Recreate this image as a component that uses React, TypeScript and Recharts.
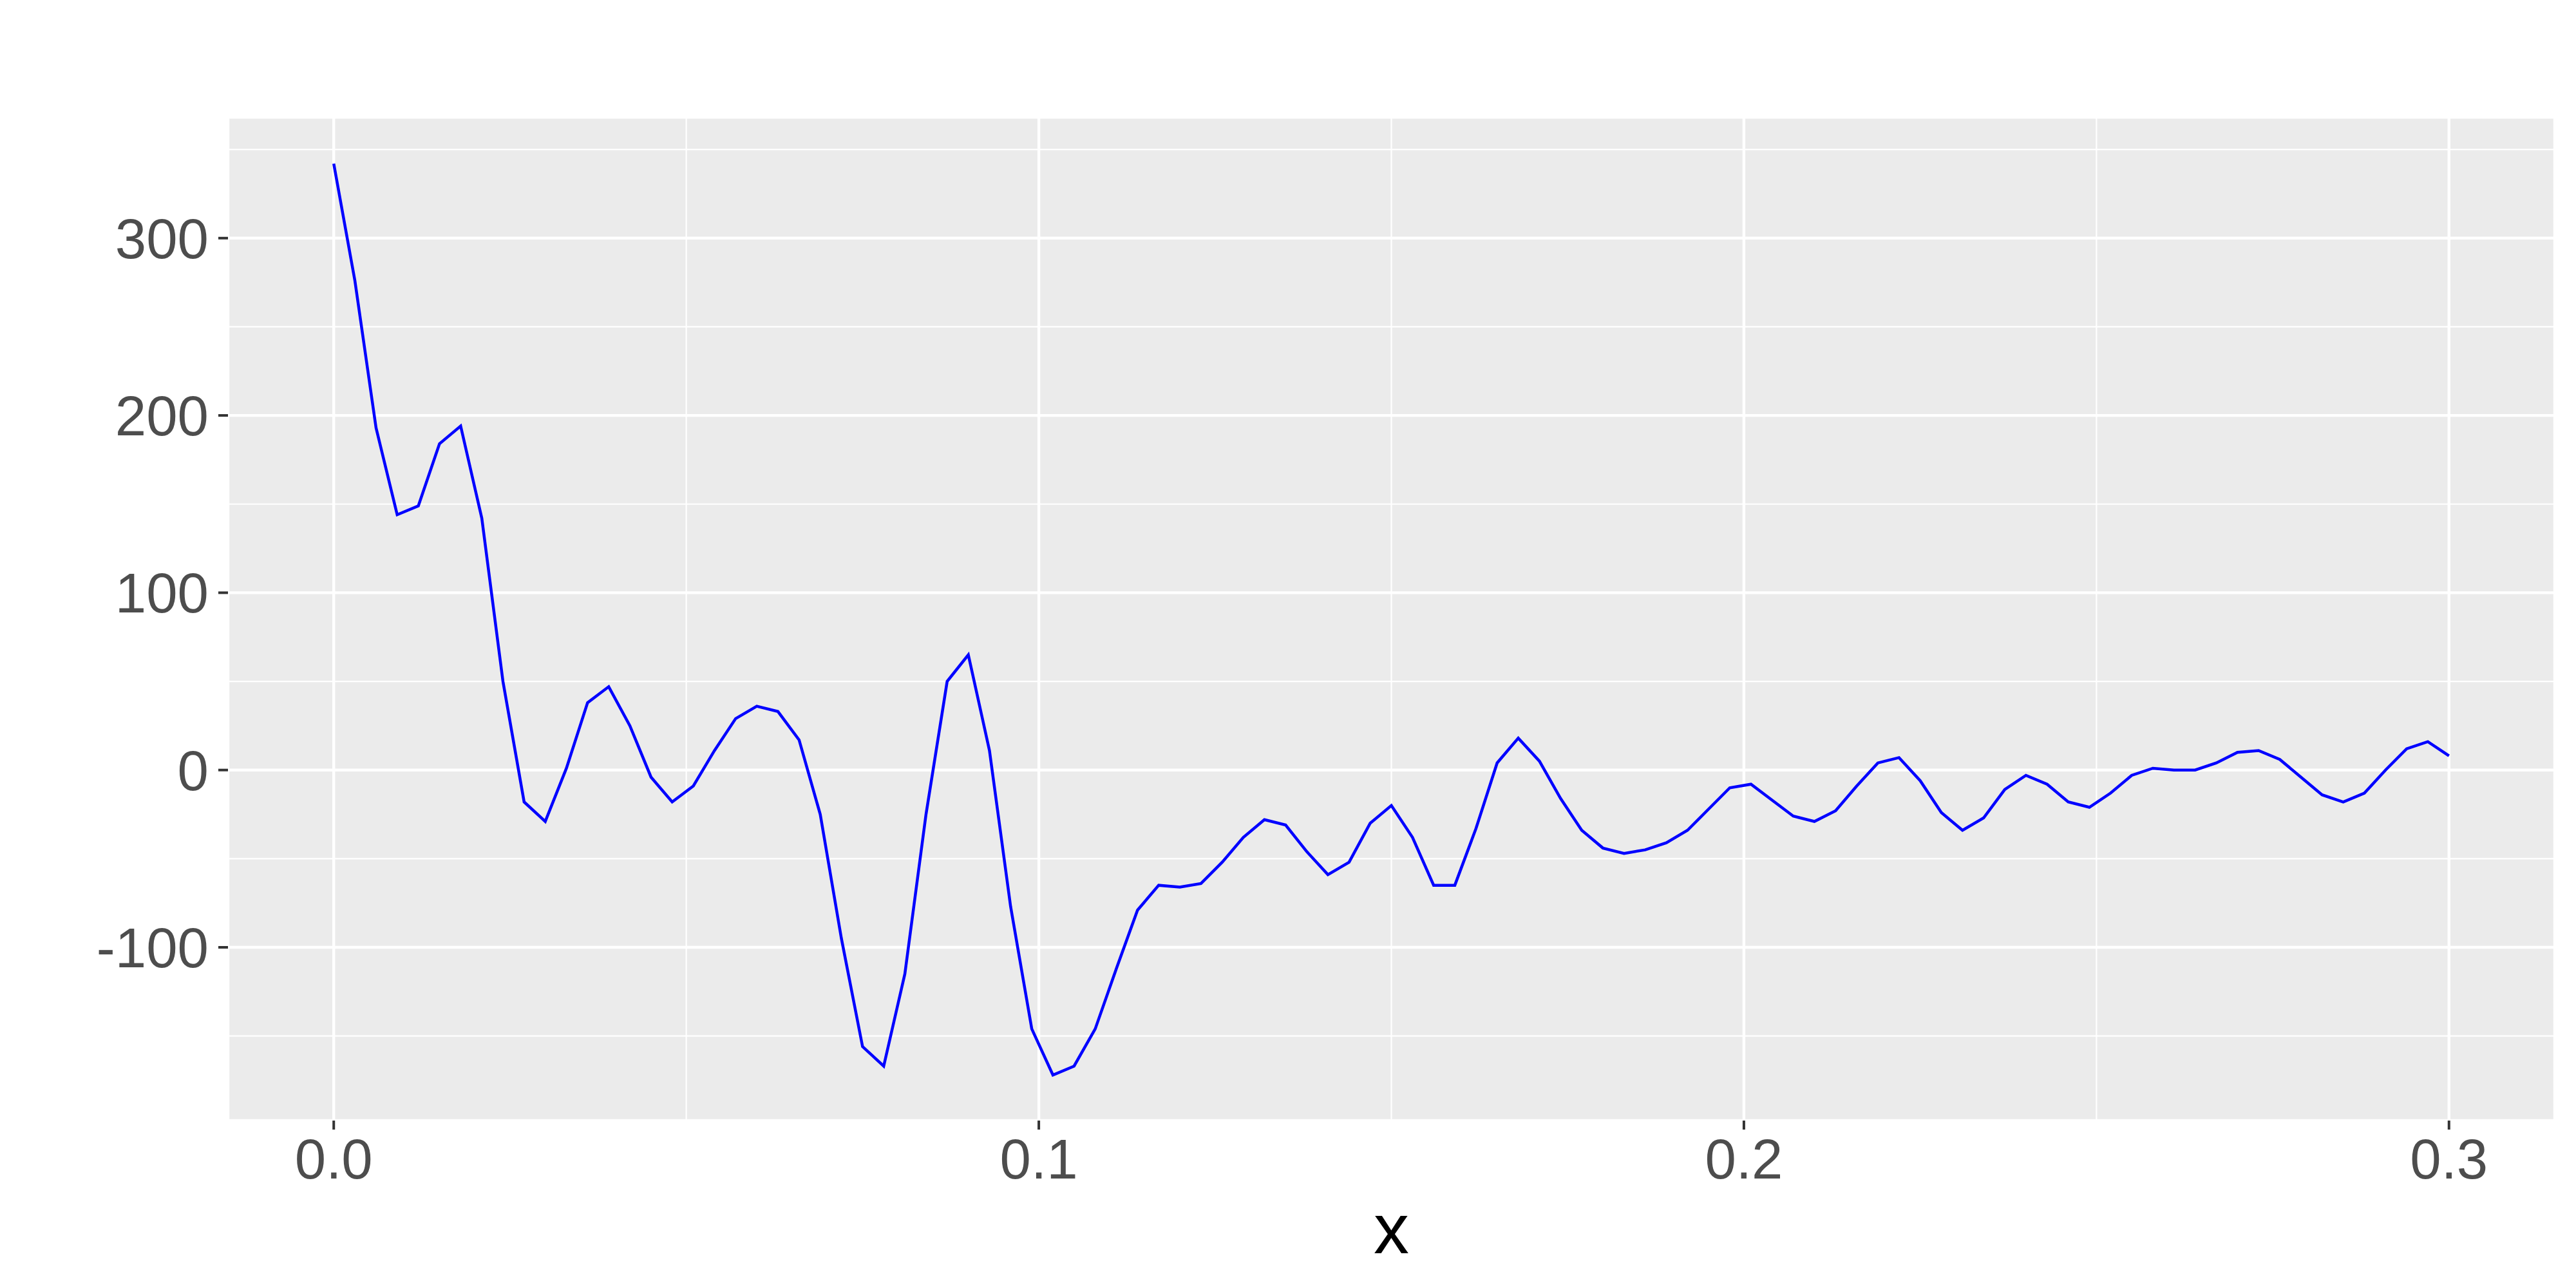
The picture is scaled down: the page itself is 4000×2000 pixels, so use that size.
import { LineChart, Line, XAxis, YAxis, CartesianGrid, ReferenceLine } from 'recharts';

const xValues = [
  0, 0.003, 0.006, 0.009, 0.012, 0.015, 0.018, 0.021, 0.024, 0.027,
  0.03, 0.033, 0.036, 0.039, 0.042, 0.045, 0.048, 0.051, 0.054, 0.057,
  0.06, 0.063, 0.066, 0.069, 0.072, 0.075, 0.078, 0.081, 0.084, 0.087,
  0.09, 0.093, 0.096, 0.099, 0.102, 0.105, 0.108, 0.111, 0.114, 0.117,
  0.12, 0.123, 0.126, 0.129, 0.132, 0.135, 0.138, 0.141, 0.144, 0.147,
  0.15, 0.153, 0.156, 0.159, 0.162, 0.165, 0.168, 0.171, 0.174, 0.177,
  0.18, 0.183, 0.186, 0.189, 0.192, 0.195, 0.198, 0.201, 0.204, 0.207,
  0.21, 0.213, 0.216, 0.219, 0.222, 0.225, 0.228, 0.231, 0.234, 0.237,
  0.24, 0.243, 0.246, 0.249, 0.252, 0.255, 0.258, 0.261, 0.264, 0.267,
  0.27, 0.273, 0.276, 0.279, 0.282, 0.285, 0.288, 0.291, 0.294, 0.297,
  0.3,
];

const yValues = [
  342, 276, 193, 144, 149, 184, 194, 142, 50, -18,
  -29, 1, 38, 47, 25, -4, -18, -9, 11, 29,
  36, 33, 17, -25, -95, -156, -167, -115, -25, 50,
  65, 11, -77, -146, -172, -167, -146, -112, -79, -65,
  -66, -64, -52, -38, -28, -31, -46, -59, -52, -30,
  -20, -38, -65, -65, -33, 4, 18, 5, -16, -34,
  -44, -47, -45, -41, -34, -22, -10, -8, -17, -26,
  -29, -23, -9, 4, 7, -6, -24, -34, -27, -11,
  -3, -8, -18, -21, -13, -3, 1, 0, 0, 4,
  10, 11, 6, -4, -14, -18, -13, 0, 12, 16,
  8,
];

const xTicks = [0, 0.1, 0.2, 0.3];
const yTicks = [-100, 0, 100, 200, 300];
const xMinor = [0.05, 0.15, 0.25];
const yMinor = [-150, -50, 50, 150, 250, 350];

const data = xValues.map((x, i) => ({ x, y: yValues[i] }));

const tickStyle = { fontSize: 87, fill: '#4D4D4D', fontFamily: 'Liberation Sans, Arial, sans-serif' };

export default function App() {
  return (
    <div style={{ position: 'absolute', left: 0, top: 0, width: 4000, height: 2000, background: '#fff' }}>
      <LineChart
        width={4000}
        height={2000}
        data={data}
        margin={{ top: 182, right: 33, left: 0, bottom: 0 }}
      >
        <CartesianGrid fill="#EBEBEB" stroke="#FFFFFF" strokeWidth={4.4} />
        {xMinor.map((v) => (
          <ReferenceLine key={`xm${v}`} x={v} stroke="#FFFFFF" strokeWidth={2.2} />
        ))}
        {yMinor.map((v) => (
          <ReferenceLine key={`ym${v}`} y={v} stroke="#FFFFFF" strokeWidth={2.2} />
        ))}
        <XAxis
          dataKey="x"
          type="number"
          domain={[-0.015, 0.315]}
          ticks={xTicks}
          allowDataOverflow
          tickFormatter={(v: number) => v.toFixed(1)}
          axisLine={false}
          tickLine={{ stroke: '#333333', strokeWidth: 4 }}
          tickSize={14}
          tickMargin={14}
          tick={tickStyle}
          height={260}
          label={{
            value: 'x',
            position: 'insideBottom',
            offset: 54,
            fontSize: 110,
            fill: '#000000',
            fontFamily: 'Liberation Sans, Arial, sans-serif',
          }}
        />
        <YAxis
          type="number"
          domain={[-197.7, 368.2]}
          ticks={yTicks}
          allowDataOverflow
          axisLine={false}
          tickLine={{ stroke: '#333333', strokeWidth: 4 }}
          tickSize={15}
          tickMargin={15}
          tick={tickStyle}
          width={354}
        />
        <Line
          type="linear"
          dataKey="y"
          stroke="#0000FF"
          strokeWidth={4.5}
          dot={false}
          isAnimationActive={false}
        />
      </LineChart>
    </div>
  );
}
